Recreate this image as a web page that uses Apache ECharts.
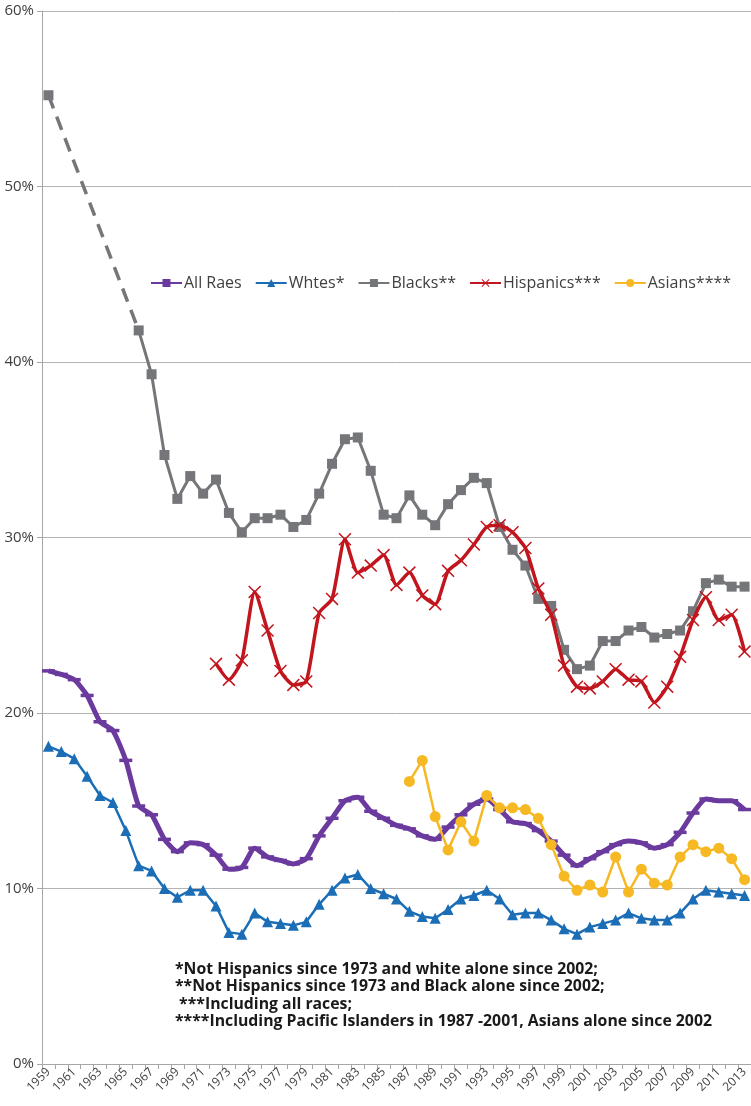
<!DOCTYPE html>
<html>
<head>
<meta charset="utf-8">
<title>Poverty rates by race, 1959-2013</title>
<script src="https://cdn.jsdelivr.net/npm/echarts@6/dist/echarts.min.js"></script>
<style>
  html, body { margin: 0; padding: 0; background: #ffffff; }
  #chart { width: 751px; height: 1106px; }
</style>
</head>
<body>
<div id="chart"></div>
<script>
// Years on the category axis
const years = [];
for (let y = 1959; y <= 2013; y++) years.push(String(y));

// Poverty rate, percent (null = no data for that year)
const allRaces = [22.4, 22.2, 21.9, 21.0, 19.5, 19.0, 17.3, 14.7, 14.2, 12.8,
  12.1, 12.6, 12.5, 11.9, 11.1, 11.2, 12.3, 11.8, 11.6, 11.4,
  11.7, 13.0, 14.0, 15.0, 15.2, 14.4, 14.0, 13.6, 13.4, 13.0,
  12.8, 13.5, 14.2, 14.8, 15.1, 14.5, 13.8, 13.7, 13.3, 12.7,
  11.9, 11.3, 11.7, 12.1, 12.5, 12.7, 12.6, 12.3, 12.5, 13.2,
  14.3, 15.1, 15.0, 15.0, 14.5];

const whites = [18.1, 17.8, 17.4, 16.4, 15.3, 14.9, 13.3, 11.3, 11.0, 10.0,
  9.5, 9.9, 9.9, 9.0, 7.5, 7.4, 8.6, 8.1, 8.0, 7.9,
  8.1, 9.1, 9.9, 10.6, 10.8, 10.0, 9.7, 9.4, 8.7, 8.4,
  8.3, 8.8, 9.4, 9.6, 9.9, 9.4, 8.5, 8.6, 8.6, 8.2,
  7.7, 7.4, 7.8, 8.0, 8.2, 8.6, 8.3, 8.2, 8.2, 8.6,
  9.4, 9.9, 9.8, 9.7, 9.6];

const blacks = [55.2, null, null, null, null, null, null, 41.8, 39.3, 34.7,
  32.2, 33.5, 32.5, 33.3, 31.4, 30.3, 31.1, 31.1, 31.3, 30.6,
  31.0, 32.5, 34.2, 35.6, 35.7, 33.8, 31.3, 31.1, 32.4, 31.3,
  30.7, 31.9, 32.7, 33.4, 33.1, 30.6, 29.3, 28.4, 26.5, 26.1,
  23.6, 22.5, 22.7, 24.1, 24.1, 24.7, 24.9, 24.3, 24.5, 24.7,
  25.8, 27.4, 27.6, 27.2, 27.2];

const hispanics = [null, null, null, null, null, null, null, null, null, null,
  null, null, null, 22.8, 21.9, 23.0, 26.9, 24.7, 22.4, 21.6,
  21.8, 25.7, 26.5, 29.9, 28.0, 28.4, 29.0, 27.3, 28.0, 26.7,
  26.2, 28.1, 28.7, 29.6, 30.6, 30.7, 30.3, 29.4, 27.1, 25.6,
  22.7, 21.5, 21.4, 21.8, 22.5, 21.9, 21.8, 20.6, 21.5, 23.2,
  25.3, 26.6, 25.3, 25.6, 23.5];

const asians = [null, null, null, null, null, null, null, null, null, null,
  null, null, null, null, null, null, null, null, null, null,
  null, null, null, null, null, null, null, null, 16.1, 17.3,
  14.1, 12.2, 13.8, 12.7, 15.3, 14.6, 14.6, 14.5, 14.0, 12.5,
  10.7, 9.9, 10.2, 9.8, 11.8, 9.8, 11.1, 10.3, 10.2, 11.8,
  12.5, 12.1, 12.3, 11.7, 10.5];

const seriesNames = ['All Raes', 'Whtes*', 'Blacks**', 'Hispanics***', 'Asians****'];
const yTicks = [0, 10, 20, 30, 40, 50, 60];

const footnotes = [
  '*Not Hispanics since 1973 and white alone since 2002;',
  '**Not Hispanics since 1973 and Black alone since 2002;',
  ' ***Including all races;',
  '****Including Pacific Islanders in 1987 -2001, Asians alone since 2002'
];

// The first Black value and the next available one are joined by a dashed line
const firstAfterGap = blacks.findIndex((x, j) => j > 0 && x != null);
const blacksGap = blacks.map((v, i) => (i === 0 || i === firstAfterGap) ? v : null);

const C_ALL = '#6B3A9E';
const C_WHITE = '#1B6DB6';
const C_BLACK = '#75767A';
const C_HISP = '#C2161E';
const C_ASIAN = '#F6B823';

const crossPath = 'path://M0,1 L1,0 L12,11 L11,12 Z M11,0 L12,1 L1,12 L0,11 Z';

const chart = echarts.init(document.getElementById('chart'), null, { renderer: 'canvas' });

chart.setOption({
  animation: false,
  backgroundColor: '#ffffff',
  textStyle: { fontFamily: '"Open Sans", Lato, sans-serif' },
  grid: { left: 42, right: 0, top: 11, bottom: 42, containLabel: false },
  legend: {
    top: 270,
    left: 145,
    itemGap: 13,
    itemWidth: 31,
    itemHeight: 10,
    textStyle: { fontSize: 16, color: '#404040', fontFamily: '"Open Sans", sans-serif', padding: [0, 0, 0, -3] },
    data: seriesNames
  },
  xAxis: {
    type: 'category',
    data: years,
    boundaryGap: true,
    axisLine: { lineStyle: { color: '#A6A6A6', width: 1 } },
    axisTick: { show: true, interval: 0, length: 5, lineStyle: { color: '#A6A6A6' } },
    axisLabel: {
      interval: 1,
      rotate: 45,
      fontSize: 12,
      color: '#404040',
      margin: 6,
      fontFamily: '"Open Sans", sans-serif'
    },
    splitLine: { show: false }
  },
  yAxis: {
    type: 'value',
    min: yTicks[0],
    max: yTicks[yTicks.length - 1],
    interval: 10,
    axisLine: { show: true, lineStyle: { color: '#A6A6A6', width: 1 } },
    axisTick: { show: true, length: 5, lineStyle: { color: '#A6A6A6' } },
    axisLabel: {
      formatter: v => v + '%',
      fontSize: 15,
      color: '#404040',
      margin: 8,
      fontFamily: '"Open Sans", sans-serif'
    },
    splitLine: { show: true, lineStyle: { color: '#B3B3B3', width: 1 } }
  },
  series: [
    {
      name: seriesNames[2],
      type: 'line',
      data: blacks,
      z: 3,
      connectNulls: false,
      showAllSymbol: true,
      symbol: 'rect',
      symbolSize: 10,
      lineStyle: { color: C_BLACK, width: 3 },
      itemStyle: { color: C_BLACK }
    },
    {
      name: 'blacks-gap',
      type: 'line',
      data: blacksGap,
      z: 2,
      connectNulls: true,
      showSymbol: false,
      silent: true,
      lineStyle: { color: C_BLACK, width: 3.5, type: [14, 9] },
      itemStyle: { color: C_BLACK }
    },
    {
      name: seriesNames[3],
      type: 'line',
      data: hispanics,
      z: 4,
      smooth: 0.2,
      showAllSymbol: true,
      symbol: crossPath,
      symbolSize: 13,
      lineStyle: { color: C_HISP, width: 3.5 },
      itemStyle: { color: C_HISP }
    },
    {
      name: seriesNames[0],
      type: 'line',
      data: allRaces,
      z: 5,
      smooth: 0.2,
      showAllSymbol: true,
      symbol: 'rect',
      symbolSize: [13, 3.5],
      lineStyle: { color: C_ALL, width: 5 },
      itemStyle: { color: C_ALL }
    },
    {
      name: seriesNames[1],
      type: 'line',
      data: whites,
      z: 5,
      showAllSymbol: true,
      symbol: 'triangle',
      symbolSize: 11,
      lineStyle: { color: C_WHITE, width: 2.5 },
      itemStyle: { color: C_WHITE }
    },
    {
      name: seriesNames[4],
      type: 'line',
      data: asians,
      z: 6,
      showAllSymbol: true,
      symbol: 'circle',
      symbolSize: 11,
      lineStyle: { color: C_ASIAN, width: 2.5 },
      itemStyle: { color: C_ASIAN }
    }
  ],
  graphic: footnotes.map((t, i) => ({
    type: 'text',
    left: 175,
    top: 961 + i * 17.5,
    style: {
      text: t,
      font: 'bold 15.8px "Open Sans", Lato, sans-serif',
      fill: '#1A1A1A'
    }
  }))
});
</script>
</body>
</html>
